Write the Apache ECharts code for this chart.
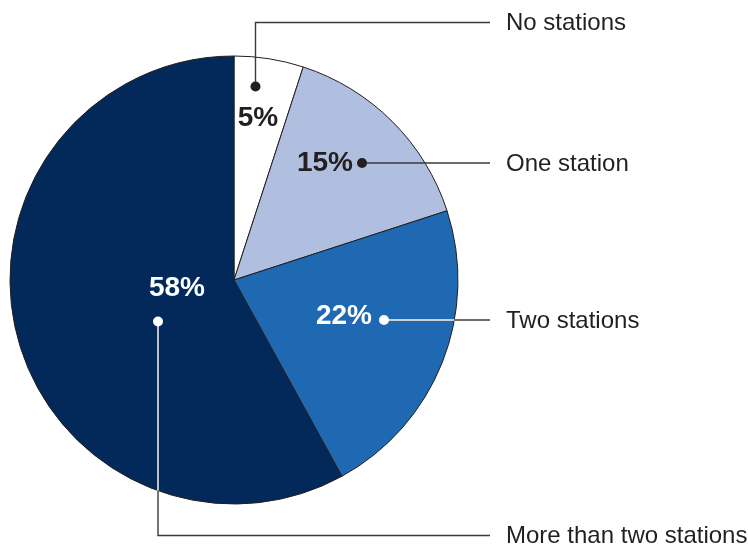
<!DOCTYPE html>
<html>
<head>
<meta charset="utf-8">
<script src="https://cdn.jsdelivr.net/npm/echarts@6/dist/echarts.min.js"></script>
<style>
  html, body { margin: 0; padding: 0; background: #fff; }
  #chart { width: 748px; height: 546px; }
</style>
</head>
<body>
<div id="chart"></div>
<script>
// data
const categories = ['No stations', 'One station', 'Two stations', 'More than two stations'];
const shares = [5, 15, 22, 58];
const sliceColors = ['#ffffff', '#b0bee0', '#1f69b3', '#03295a'];
const pctColors = ['#231f20', '#231f20', '#ffffff', '#ffffff'];

// pie geometry
const cx = 234, cy = 280, R = 224;
const labelLineEnd = 490;
const labelTextX = 506;

// dot / corner offsets relative to pie centre (annotation layout only)
const dots = [[21.5, -193.5], [128, -117], [150, 40], [-76, 41.5]];
const elbows = [[21.5, -257.5], null, null, [-76, 255.5]];
const pctPos = [[24, -162, 'center'], [119, -117, 'right'], [138, 36, 'right'], [-57, 8, 'center']];

const chart = echarts.init(document.getElementById('chart'), null, { renderer: 'canvas' });

// split a segment at the pie edge so the part inside dark slices can be white
function clipInside(p0, p1) {
  const dx = p1[0] - p0[0], dy = p1[1] - p0[1];
  const fx = p0[0] - cx, fy = p0[1] - cy;
  const a = dx * dx + dy * dy, b = 2 * (fx * dx + fy * dy), c = fx * fx + fy * fy - R * R;
  const t = (-b + Math.sqrt(b * b - 4 * a * c)) / (2 * a);
  return [p0[0] + dx * t, p0[1] + dy * t];
}

const graphics = [];
categories.forEach((name, i) => {
  const dot = [cx + dots[i][0], cy + dots[i][1]];
  const pts = [dot];
  if (elbows[i]) pts.push([cx + elbows[i][0], cy + elbows[i][1]]);
  const last = pts[pts.length - 1];
  const endY = last[1];
  pts.push([labelLineEnd, endY]);
  const onDark = pctColors[i] === '#ffffff';

  graphics.push({
    type: 'polyline', z: 10,
    shape: { points: pts },
    style: { stroke: '#3a3a3a', lineWidth: 1.4, fill: null }
  });
  if (onDark) {
    const hit = clipInside(pts[0], pts[1]);
    graphics.push({
      type: 'line', z: 11,
      shape: { x1: pts[0][0], y1: pts[0][1], x2: hit[0], y2: hit[1] },
      style: { stroke: '#ffffff', lineWidth: 1.4 }
    });
  }
  graphics.push({
    type: 'circle', z: 12,
    shape: { cx: dot[0], cy: dot[1], r: 5 },
    style: { fill: onDark ? '#ffffff' : '#231f20' }
  });
  graphics.push({
    type: 'text', z: 12,
    x: labelTextX, y: endY + 1,
    style: {
      text: name, fill: '#231f20',
      font: '24px "Liberation Sans", Arial, sans-serif',
      verticalAlign: 'middle', align: 'left'
    }
  });
  graphics.push({
    type: 'text', z: 12,
    x: cx + pctPos[i][0], y: cy + pctPos[i][1],
    style: {
      text: shares[i] + '%', fill: pctColors[i],
      font: 'bold 28px "Liberation Sans", Arial, sans-serif',
      verticalAlign: 'middle', align: pctPos[i][2]
    }
  });
});

chart.setOption({
  animation: false,
  backgroundColor: '#ffffff',
  series: [{
    type: 'pie',
    center: [cx, cy],
    radius: R,
    startAngle: 90,
    clockwise: true,
    silent: true,
    label: { show: false },
    labelLine: { show: false },
    itemStyle: { borderColor: '#231f20', borderWidth: 1 },
    data: categories.map((name, i) => ({
      name, value: shares[i], itemStyle: { color: sliceColors[i] }
    }))
  }],
  graphic: graphics
});
</script>
</body>
</html>
